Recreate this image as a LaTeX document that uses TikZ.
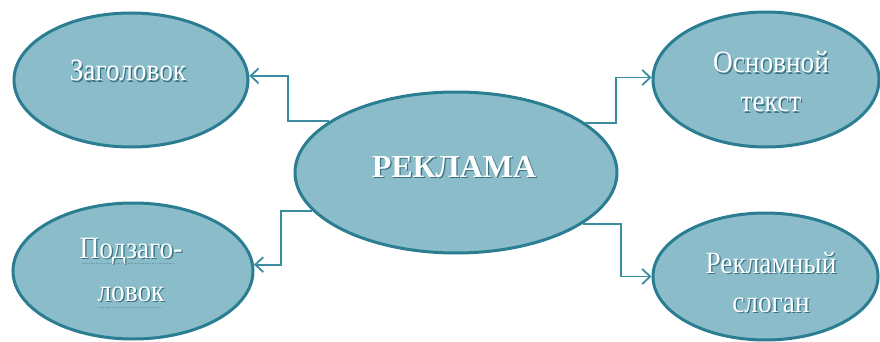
\documentclass[tikz,border=0pt]{standalone}
\usepackage{fontspec}
\setmainfont{Liberation Serif}
\newfontfamily\narrowserif[FakeStretch=0.88]{Liberation Serif}
\usetikzlibrary{arrows.meta,shapes.geometric}
\definecolor{ellfill}{HTML}{8ABCCA}
\definecolor{elldraw}{HTML}{2B7E92}
\definecolor{connc}{HTML}{3A8CA0}
\definecolor{shadowc}{HTML}{3C7383}
\definecolor{spellc}{HTML}{6C9CAB}
\newcommand{\glowtext}[1]{\makebox[0pt][l]{\raisebox{-1.3pt}{\kern1.3pt\textcolor{shadowc}{#1}}}\textcolor{white}{#1}}
\begin{document}
\begin{tikzpicture}[x=1pt,y=-1pt,
  bubble/.style={ellipse, draw=elldraw, line width=3pt, fill=ellfill, inner sep=0pt},
  conn/.style={draw=connc, line width=1.8pt, -{Straight Barb[length=8pt,width=15pt,line width=1.8pt]}},
  lbl/.style={font=\narrowserif\fontsize{31}{39}\selectfont, align=center, anchor=base, inner sep=0pt},
  biglbl/.style={font=\bfseries\fontsize{32}{39}\selectfont, align=center, anchor=base, inner sep=0pt},
  spell/.style={draw=spellc, line width=0.7pt, densely dotted}
]
\useasboundingbox (0,0) rectangle (880,342);
\fill[white] (0,0) rectangle (880,342);

\node[bubble, minimum width=234pt, minimum height=134pt] (A) at (131,80) {};
\node[bubble, minimum width=240pt, minimum height=136pt] (B) at (133,271) {};
\node[bubble, minimum width=322pt, minimum height=161pt] (C) at (456,172.5) {};
\node[bubble, minimum width=226pt, minimum height=135pt] (D) at (766,79.5) {};
\node[bubble, minimum width=225pt, minimum height=127pt] (E) at (765.5,276.5) {};

\node[lbl] (tA) at (128,81) {\glowtext{Заголовок}};
\node[lbl] (tB) at (131,301) {\glowtext{Подзаго-}\\[4pt]\glowtext{ловок}};
\node[biglbl] (tC) at (454,177) {\glowtext{РЕКЛАМА}};
\node[lbl] (tD) at (771,112) {\glowtext{Основной}\\\glowtext{текст}};
\node[lbl] (tE) at (771,312) {\glowtext{Рекламный}\\\glowtext{слоган}};

\draw[spell] (82,263) -- (175,263);
\draw[spell] (98,307) -- (162,307);

\draw[conn] (C.158.7) -- ++(-41,0) |- (A.2);
\draw[conn] (C.195.2) -- ++(-31.6,0) |- (B.3);
\draw[conn] (C.21.9) -- ++(30.6,0) |- (D.179);
\draw[conn] (C.338.7) -- ++(38,0) |- (E.180);
\end{tikzpicture}
\end{document}
